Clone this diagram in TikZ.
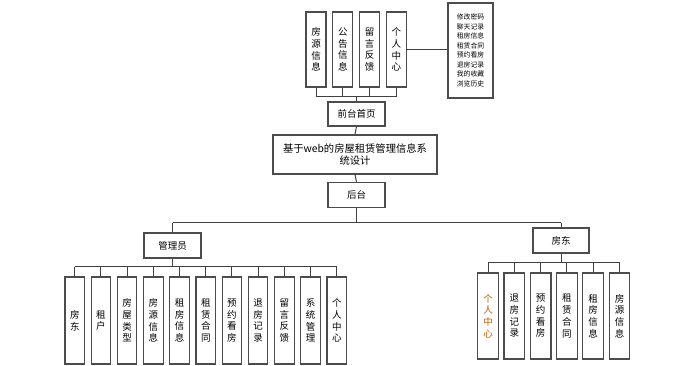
\documentclass[tikz,border=0pt]{standalone}
\usepackage{fontspec}
\setmainfont{Noto Sans CJK SC}
\tikzset{
  box/.style={draw=black!70, line width=1.1pt, inner sep=0pt, fill=white,
    font=\fontsize{9.5}{11.7}\selectfont},
  vbox/.style={box, minimum width=20pt, align=center},
  hbox/.style={box, minimum width=57pt, minimum height=25pt},
  link/.style={draw=black!75, line width=1pt},
}
\begin{document}
\begin{tikzpicture}[x=1pt,y=-1pt]
    \useasboundingbox (0,0) rectangle (694,366);

    % front end
    \node[vbox,minimum height=75pt] (t1) at (316,49.5) {房\\源\\信\\息};
    \node[vbox,minimum height=75pt] (t2) at (342.8,49.5) {公\\告\\信\\息};
    \node[vbox,minimum height=75pt] (t3) at (369.6,49.5) {留\\言\\反\\馈};
    \node[vbox,minimum height=75pt] (t4) at (396.4,49.5) {个\\人\\中\\心};
    \node[box,minimum width=45pt,minimum height=95pt,align=center,
          font=\fontsize{6.8}{9.5}\selectfont] (user) at (470.5,50.5)
          {修改密码\\聊天记录\\租房信息\\租赁合同\\预约看房\\退房记录\\我的收藏\\浏览历史};
    \node[hbox,minimum height=24pt] (front) at (356.5,114) {前台首页};
    \node[box,minimum width=164pt,minimum height=39pt,align=center,
          font=\fontsize{10.3}{12}\selectfont] (sys) at (355,154.5)
          {基于web的房屋租赁管理信息系\\统设计};
    \node[hbox] (back) at (356.5,195) {后台};

    \coordinate (tbus) at (356.5,97);
    \foreach \i in {1,...,4}
        \draw[link] (t\i.south) -- (t\i.south |- tbus);
    \draw[link] (t1.south |- tbus) -- (t4.south |- tbus);
    \draw[link] (front.north) -- (front.north |- tbus);
    \draw[link] (t4.east) -- (t4.east -| user.west);
    \draw[link] (front.south) -- (sys.north);
    \draw[link] (sys.south) -- (back.north);

    % back end
    \node[hbox] (admin) at (172.5,245.5) {管理员};
    \node[hbox,minimum width=56pt] (owner) at (561,240.5) {房东};
    \coordinate (bbus) at (356.5,223);
    \draw[link] (back.south) -- (back.south |- bbus);
    \draw[link] (admin.north |- bbus) -- (owner.north |- bbus);
    \draw[link] (admin.north) -- (admin.north |- bbus);
    \draw[link] (owner.north) -- (owner.north |- bbus);

    % administrator
    \foreach \txt [count=\i] in {房\\东, 租\\户, 房\\屋\\类\\型, 房\\源\\信\\息,
        租\\房\\信\\息, 租\\赁\\合\\同, 预\\约\\看\\房, 退\\房\\记\\录,
        留\\言\\反\\馈, 系\\统\\管\\理, 个\\人\\中\\心}
        \node[vbox,minimum width=19.5pt,minimum height=87pt] (a\i)
            at ({74.75+26.2*(\i-1)},320.5) {\txt};
    \coordinate (abus) at (172.5,267);
    \foreach \i in {1,...,11}
        \draw[link] (a\i.north) -- (a\i.north |- abus);
    \draw[link] (a1.north |- abus) -- (a11.north |- abus);
    \draw[link] (admin.south) -- (admin.south |- abus);

    % landlord
    \node[vbox,minimum width=20.7pt,minimum height=86pt,text=orange!75!black] (o1)
        at (488,316) {个\\人\\中\\心};
    \foreach \txt [count=\i from 2] in {退\\房\\记\\录, 预\\约\\看\\房,
        租\\赁\\合\\同, 租\\房\\信\\息, 房\\源\\信\\息}
        \node[vbox,minimum width=20.7pt,minimum height=86pt] (o\i)
            at ({488+26.3*(\i-1)},316) {\txt};
    \coordinate (obus) at (561,263);
    \foreach \i in {1,...,6}
        \draw[link] (o\i.north) -- (o\i.north |- obus);
    \draw[link] (o1.north |- obus) -- (o6.north |- obus);
    \draw[link] (owner.south) -- (owner.south |- obus);
\end{tikzpicture}
\end{document}
